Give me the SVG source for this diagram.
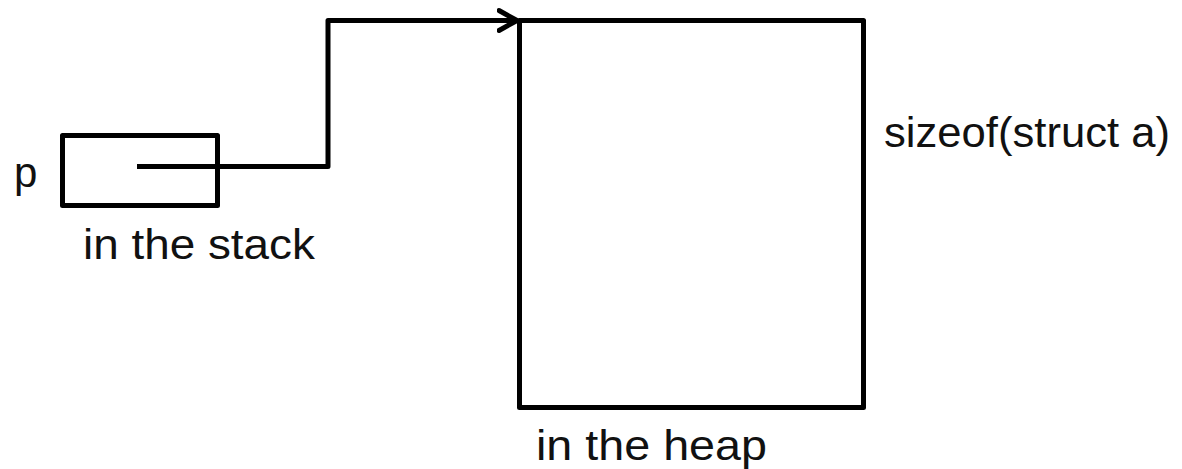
<svg xmlns="http://www.w3.org/2000/svg" width="1182" height="469" viewBox="0 0 1182 469">
<style>
.box{fill:none;stroke:#000;stroke-width:5;stroke-linejoin:round}
.wire{fill:none;stroke:#000;stroke-width:5;stroke-linejoin:round}
.lbl{font-family:"Liberation Sans",Arial,sans-serif;font-size:42px;fill:#111}
</style>
<defs>
<marker id="arr" markerUnits="userSpaceOnUse" markerWidth="30" markerHeight="30" refX="20" refY="12" orient="auto" viewBox="0 0 30 24">
<polyline points="2,2 20,12 2,22" fill="none" stroke="#000" stroke-width="5" stroke-linecap="round" stroke-linejoin="round"/>
</marker>
</defs>
<g id="stack">
<rect class="box" x="62.5" y="135.5" width="155" height="70"/>
<text class="lbl" x="14" y="187">p</text>
<text class="lbl" x="83" y="259" textLength="232" lengthAdjust="spacingAndGlyphs">in the stack</text>
</g>
<g id="heap">
<rect class="box" x="519.5" y="20.5" width="344" height="387"/>
<text class="lbl" x="884" y="147" textLength="286" lengthAdjust="spacingAndGlyphs">sizeof(struct a)</text>
<text class="lbl" x="536" y="460" textLength="231" lengthAdjust="spacingAndGlyphs">in the heap</text>
</g>
<g id="connectors">
<polyline class="wire" points="137,166.5 328,166.5 328,20.5 517,20.5" marker-end="url(#arr)"/>
</g>
</svg>
